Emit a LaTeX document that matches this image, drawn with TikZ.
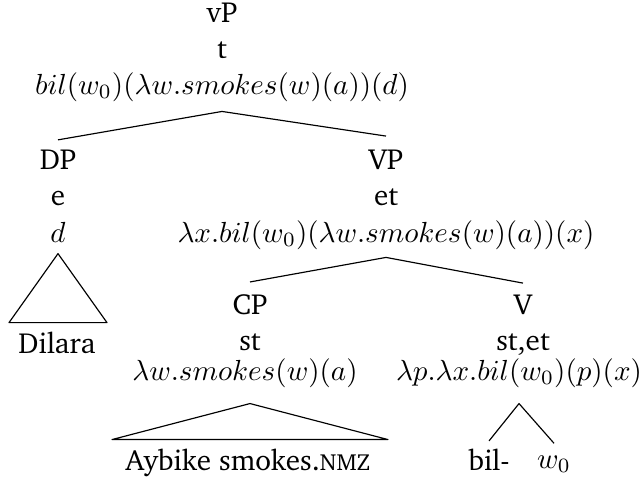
\documentclass[tikz,border=0pt]{standalone}
\usepackage[T1]{fontenc}
\usepackage{charter}
\usepackage{tikz}
\usetikzlibrary{positioning}
\tikzset{every node/.style={ % every text line sits on its baseline
           inner sep=0pt,
           anchor=base},
         branch/.style={      % tree branches and roofs
           draw,
           line join=round}}
\newcommand{\nmz}{{\fontsize{8}{9.5}\selectfont NMZ}}

\begin{document}
\begin{tikzpicture}[x=0.344pt, y=-0.344pt]
\useasboundingbox (0,0) rectangle (644,480);

% root
\node (vP)  at (222,22) {vP};
\node (vPt) at (222,58) {t};
\node (vPm) at (222,94) {$bil(w_0)(\lambda w.smokes(w)(a))(d)$};

% subject
\node (DP)  at (58,169) {DP};
\node (DPt) at (58,205) {e};
\node (DPm) at (58,242) {$d$};
\node (dil) at (57,353) {Dilara};

% VP
\node (VP)  at (386,169) {VP};
\node (VPt) at (386,205) {et};
\node (VPm) at (386,242) {$\lambda x.bil(w_0)(\lambda w.smokes(w)(a))(x)$};

% complement clause
\node (CP)  at (250,314) {CP};
\node (CPt) at (250,350) {st};
\node (CPm) at (245,380) {$\lambda w.smokes(w)(a)$};
\node (ayb) at (248,470) {Aybike smokes.\nmz};

% verb
\node (V)   at (523,314) {V};
\node (Vt)  at (523,350) {st,et};
\node (Vm)  at (519,380) {$\lambda p.\lambda x.bil(w_0)(p)(x)$};
\node (bil) at (489,470) {bil-};
\node (w0)  at (554,468) {$w_0$};

\draw[branch] ([yshift=3pt]DP.north) -- ([yshift=-3.3pt]vPm.south) -- ([yshift=4.3pt]VP.north);
\draw[branch] ([yshift=4pt]CP.north) -- ([yshift=-2.6pt]VPm.south) -- ([yshift=3.6pt]V.north);
\draw[branch] ([yshift=2.4pt]bil.north) -- ([yshift=-5.4pt]Vm.south) -- ([yshift=4pt]w0.north);

% roofs
\draw[branch] ([yshift=-3.8pt]DPm.south) -- ++(-49,69) -- ++(98,0) -- cycle;
\draw[branch] ([yshift=-5.4pt]CPm.south) ++(5,0) -- ++(-138,36) -- ++(276,0) -- cycle;

\end{tikzpicture}
\end{document}
